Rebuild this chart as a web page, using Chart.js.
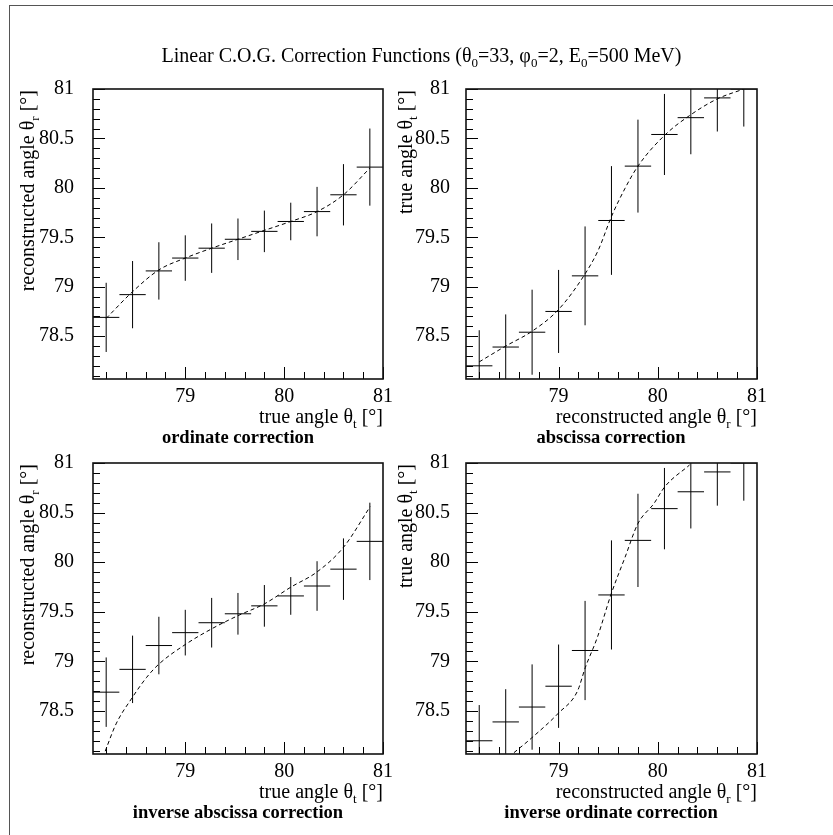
<!DOCTYPE html>
<html><head><meta charset="utf-8">
<script src="https://cdn.jsdelivr.net/npm/chart.js@4/dist/chart.umd.min.js"></script>
<style>
html,body{margin:0;padding:0;background:#fff;overflow:hidden;width:833px;height:835px}
body{position:relative;font-family:'Liberation Serif','Times New Roman',serif;color:#000}
canvas{position:absolute}
.t{position:absolute;white-space:nowrap;line-height:1;font-size:20px;z-index:5}
.t sub{font-size:13px;vertical-align:-5px;line-height:0}
.yt{transform-origin:0 0;transform:rotate(-90deg);text-align:right;width:320px}
.xt{text-align:right;width:300px}
.st{font-weight:bold;font-size:18.5px;text-align:center;width:400px}
#outer{position:absolute;left:9px;top:5px;width:900px;height:900px;border-top:1px solid #555;border-left:1px solid #555}
</style>
</head><body>
<div id="outer"></div>
<canvas id="c1" width="400" height="370" style="left:8px;top:49px"></canvas>
<canvas id="c2" width="401" height="370" style="left:381px;top:49px"></canvas>
<canvas id="c3" width="400" height="371" style="left:8px;top:423px"></canvas>
<canvas id="c4" width="401" height="371" style="left:381px;top:423px"></canvas>

<div class="t" style="left:5px;top:45px;width:833px;text-align:center;font-size:20px">Linear C.O.G. Correction Functions (θ<sub>0</sub>=33, φ<sub>0</sub>=2, E<sub>0</sub>=500 MeV)</div>

<div class="t yt" style="left:17px;top:410px">reconstructed angle θ<sub>r</sub> [°]</div>
<div class="t xt" style="left:83px;top:406px">true angle θ<sub>t</sub> [°]</div>
<div class="t st" style="left:38px;top:428px">ordinate correction</div>

<div class="t yt" style="left:395px;top:410px">true angle θ<sub>t</sub> [°]</div>
<div class="t xt" style="left:457px;top:406px">reconstructed angle θ<sub>r</sub> [°]</div>
<div class="t st" style="left:411px;top:428px">abscissa correction</div>

<div class="t yt" style="left:17px;top:784px">reconstructed angle θ<sub>r</sub> [°]</div>
<div class="t xt" style="left:83px;top:781px">true angle θ<sub>t</sub> [°]</div>
<div class="t st" style="left:38px;top:803px">inverse abscissa correction</div>

<div class="t yt" style="left:395px;top:784px">true angle θ<sub>t</sub> [°]</div>
<div class="t xt" style="left:457px;top:781px">reconstructed angle θ<sub>r</sub> [°]</div>
<div class="t st" style="left:411px;top:803px">inverse ordinate correction</div>

<script>
// ---- data ----
const binCenters = [78.2, 78.467, 78.733, 79.0, 79.267, 79.533, 79.8, 80.067, 80.333, 80.6, 80.867];
const binHalfWidth = 0.133;

const ordinateValues = [78.69, 78.92, 79.16, 79.29, 79.39, 79.48, 79.56, 79.66, 79.76, 79.93, 80.21];
const ordinateErrors = [0.35, 0.34, 0.29, 0.23, 0.25, 0.21, 0.21, 0.19, 0.25, 0.31, 0.39];

const abscissaValues = [78.20, 78.39, 78.54, 78.75, 79.11, 79.67, 80.22, 80.54, 80.71, 80.91, 81.00];
const abscissaErrors = [0.36, 0.33, 0.43, 0.42, 0.50, 0.55, 0.47, 0.41, 0.37, 0.34, 0.38];

const ordFitX = [78.2, 78.467, 78.733, 79.0, 79.267, 79.533, 79.8, 80.067, 80.333, 80.6, 80.867];
const ordFitY = [78.68, 78.95, 79.17, 79.29, 79.39, 79.48, 79.57, 79.66, 79.76, 79.93, 80.20];

const absFitX = [78.2, 78.467, 78.733, 79.0, 79.267, 79.4, 79.533, 79.667, 79.8, 80.067, 80.333, 80.6, 80.867];
const absFitY = [78.24, 78.40, 78.55, 78.77, 79.13, 79.37, 79.71, 79.99, 80.22, 80.53, 80.74, 80.90, 81.00];

const invAbsFitX = [78.19, 78.3, 78.46, 78.61, 78.73, 79.0, 79.27, 79.53, 79.8, 80.07, 80.33, 80.6, 80.87];
const invAbsFitY = [78.095, 78.37, 78.63, 78.84, 78.97, 79.17, 79.33, 79.46, 79.58, 79.75, 79.90, 80.15, 80.56];

const invOrdFitX = [78.55, 78.73, 79.0, 79.19, 79.27, 79.39, 79.53, 79.67, 79.8, 79.96, 80.07, 80.32];
const invOrdFitY = [78.08, 78.23, 78.48, 78.70, 78.94, 79.24, 79.68, 80.05, 80.39, 80.59, 80.76, 80.98];

const xTickLabels = [79, 80, 81];
const yTickLabels = [78.5, 79, 79.5, 80, 80.5, 81];
const xMinorTicks = [78.2, 78.4, 78.6, 78.8, 79.2, 79.4, 79.6, 79.8, 80.2, 80.4, 80.6, 80.8];
const yMinorTicks = [78.1, 78.2, 78.3, 78.4, 78.6, 78.7, 78.8, 78.9, 79.1, 79.2, 79.3, 79.4,
                     79.6, 79.7, 79.8, 79.9, 80.1, 80.2, 80.3, 80.4, 80.6, 80.7, 80.8, 80.9];
const axisMin = 78.0667, axisMax = 81;

// ---- drawing ----
const FONT = "'Liberation Serif','Times New Roman',serif";

const framePlugin = {
  id: 'frameTicks',
  afterDatasetsDraw(chart) {
    const {ctx, chartArea: a, scales: {x, y}} = chart;
    ctx.save();
    ctx.strokeStyle = '#000';
    ctx.lineWidth = 1;
    ctx.beginPath();
    xTickLabels.forEach(v => { const p = Math.round(x.getPixelForValue(v)) + 0.5; ctx.moveTo(p, a.bottom); ctx.lineTo(p, a.bottom - 12); });
    xMinorTicks.forEach(v => { const p = Math.round(x.getPixelForValue(v)) + 0.5; ctx.moveTo(p, a.bottom); ctx.lineTo(p, a.bottom - 7); });
    yTickLabels.forEach(v => { const p = Math.round(y.getPixelForValue(v)) + 0.5; ctx.moveTo(a.left, p); ctx.lineTo(a.left + 12, p); });
    yMinorTicks.forEach(v => { const p = Math.round(y.getPixelForValue(v)) + 0.5; ctx.moveTo(a.left, p); ctx.lineTo(a.left + 7, p); });
    ctx.stroke();
    ctx.lineWidth = 1.6;
    ctx.strokeStyle = '#111';
    ctx.strokeRect(a.left, a.top, a.right - a.left, a.bottom - a.top);
    ctx.restore();
  }
};

function crossData(values, errors) {
  const d = [];
  binCenters.forEach((c, i) => {
    d.push({x: c - binHalfWidth, y: values[i]}, {x: c + binHalfWidth, y: values[i]}, {x: c, y: null},
           {x: c, y: values[i] - errors[i]}, {x: c, y: values[i] + errors[i]}, {x: c, y: null});
  });
  return d;
}

function makeChart(id, values, errors, fitX, fitY, yPad) {
  new Chart(document.getElementById(id), {
    type: 'line',
    data: {datasets: [
      {data: crossData(values, errors), borderColor: '#000', borderWidth: 1, pointRadius: 0, tension: 0, spanGaps: false},
      {data: fitX.map((v, i) => ({x: v, y: fitY[i]})), borderColor: '#000', borderWidth: 1, borderDash: [4, 3],
       pointRadius: 0, cubicInterpolationMode: 'monotone'}
    ]},
    options: {
      responsive: false, animation: false, events: [],
      layout: {padding: {left: 0, top: 40, right: 25, bottom: 0}},
      plugins: {legend: {display: false}, tooltip: {enabled: false}, title: {display: false}},
      scales: {
        x: {type: 'linear', min: axisMin, max: axisMax,
            grid: {display: false, drawTicks: false}, border: {display: false},
            afterBuildTicks: s => { s.ticks = xTickLabels.map(v => ({value: v})); },
            afterFit: s => { s.height = 40; },
            ticks: {font: {family: FONT, size: 20}, color: '#000', padding: 6, maxRotation: 0, autoSkip: false,
                    callback: v => String(v)}},
        y: {type: 'linear', min: axisMin, max: axisMax,
            grid: {display: false, drawTicks: false}, border: {display: false},
            afterBuildTicks: s => { s.ticks = yTickLabels.map(v => ({value: v})); },
            afterFit: s => { s.width = 85; },
            ticks: {font: {family: FONT, size: 20}, color: '#000', padding: yPad, autoSkip: false,
                    callback: v => String(v)}}
      }
    },
    plugins: [framePlugin]
  });
}

makeChart('c1', ordinateValues, ordinateErrors, ordFitX, ordFitY, 19);
makeChart('c2', abscissaValues, abscissaErrors, absFitX, absFitY, 16);
makeChart('c3', ordinateValues, ordinateErrors, invAbsFitX, invAbsFitY, 19);
makeChart('c4', abscissaValues, abscissaErrors, invOrdFitX, invOrdFitY, 16);
</script>
</body></html>
